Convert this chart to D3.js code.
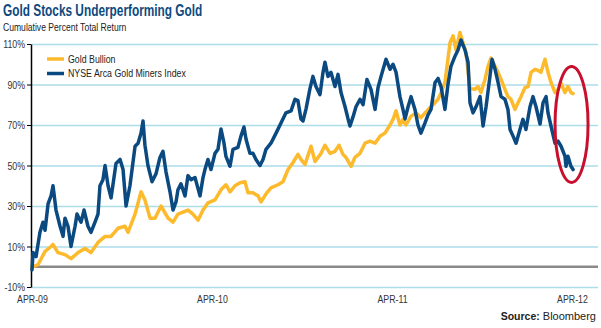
<!DOCTYPE html>
<html>
<head>
<meta charset="utf-8">
<script src="https://cdn.jsdelivr.net/npm/d3@7"></script>
<style>
  body { margin: 0; background: #fff; }
  svg { display: block; font-family: "Liberation Sans", Arial, sans-serif; }
  .axisY .domain { stroke: #000; stroke-width: 1.5; }
  .axisY .tick line { stroke: #000; }
  .axisY text { font-size: 11px; fill: #333; }
  .grid line { stroke: #acdde8; stroke-width: 1.5; }
  .grid .domain { display: none; }
  .axisX .domain, .axisX line { display: none; }
  .axisX text { font-size: 11px; fill: #333; }
</style>
</head>
<body>
<svg id="chartGold" width="601" height="328"></svg>
<script>
// months since April 2009 and cumulative total return (%)
var goldMonths = [0, 0.07, 0.4, 0.87, 1.27, 1.4, 1.73, 2.2, 2.6, 3.07, 3.53, 3.93, 4.4, 4.87, 5.27, 5.73, 6.2, 6.4, 6.87, 7.27,
  7.53, 7.87, 8.2, 8.6, 9.07, 9.4, 9.73, 10.07, 10.4, 10.73, 11.07, 11.4, 11.73, 12.2, 12.6, 12.93, 13.2, 13.53, 13.87, 14.2,
  14.4, 14.73, 15.07, 15.27, 15.6, 15.93, 16.4, 16.73, 17.07, 17.4, 17.73, 17.93, 18.2, 18.4, 18.6, 18.87, 19.27, 19.53, 19.87, 20.2,
  20.47, 20.73, 20.93, 21.27, 21.53, 21.87, 22.2, 22.53, 22.87, 23.2, 23.53, 23.87, 24.07, 24.27, 24.53, 24.73, 24.93, 25.27, 25.6, 25.93,
  26.2, 26.53, 26.73, 27.07, 27.27, 27.53, 27.73, 27.87, 28.07, 28.27, 28.53, 28.73, 28.93, 29.2, 29.53, 29.73, 29.93, 30.2, 30.4, 30.6,
  30.87, 31.07, 31.27, 31.53, 31.73, 31.93, 32.2, 32.4, 32.6, 32.87, 33.07, 33.27, 33.53, 33.73, 33.93, 34.2, 34.4, 34.6, 34.87, 35.07,
  35.27, 35.53, 35.73, 35.93, 36.07];
var goldValues = [0, 0, 1, 7.6, 10, 11, 7, 6, 4, 7, 9, 7, 12, 15, 15, 19, 20, 17, 26, 37,
  33, 24, 24, 30, 24, 22, 26, 27, 28, 26, 23, 28, 31.5, 33, 38, 40.5, 37, 40, 41.5, 42,
  36.5, 36.5, 35, 32, 36, 39, 40.5, 42, 48, 51.5, 55.5, 53, 50.5, 55, 59.5, 52, 56, 60, 56, 57,
  60, 55.5, 54, 49.6, 54, 56, 61, 62, 61, 64.5, 66, 70, 72.8, 77, 70, 72.8, 70, 74.4, 76, 73.6,
  76, 78.5, 80, 82.7, 86, 91, 102.5, 110.7, 114, 107, 115.7, 110.7, 105.8, 88, 87.6, 89, 86, 92.5, 99, 103,
  99, 96, 92.5, 87.6, 84, 82.7, 77.7, 81, 84, 88.5, 89, 96, 97.5, 97, 96, 102.5, 96, 91, 86, 87.6,
  90.6, 86, 89, 86, 85.5];

var minersMonths = [0, 0.07, 0.27, 0.53, 0.73, 0.87, 1.07, 1.27, 1.4, 1.6, 1.87, 2.07, 2.2, 2.4, 2.6, 2.87, 3.0, 3.27, 3.47, 3.73,
  3.93, 4.2, 4.4, 4.53, 4.73, 4.87, 5.07, 5.27, 5.6, 5.87, 6.07, 6.27, 6.53, 6.87, 7.07, 7.27, 7.4, 7.53, 7.73, 8.0,
  8.27, 8.53, 8.73, 8.93, 9.2, 9.4, 9.6, 9.73, 9.93, 10.2, 10.4, 10.6, 10.87, 11.2, 11.4, 11.53, 11.73, 11.93, 12.2, 12.4,
  12.6, 12.8, 12.93, 13.2, 13.4, 13.73, 13.93, 14.13, 14.27, 14.53, 14.73, 14.93, 15.2, 15.4, 15.6, 15.93, 16.27, 16.6, 16.93, 17.27,
  17.53, 17.73, 17.93, 18.07, 18.27, 18.53, 18.73, 18.93, 19.2, 19.4, 19.53, 19.73, 19.93, 20.2, 20.4, 20.6, 20.87, 21.07, 21.2, 21.4,
  21.6, 21.87, 22.07, 22.33, 22.6, 22.87, 23.07, 23.27, 23.6, 23.87, 24.07, 24.27, 24.53, 24.73, 24.87, 25.07, 25.27, 25.53, 25.73, 25.93,
  26.2, 26.4, 26.6, 26.87, 27.07, 27.27, 27.53, 27.73, 27.93, 28.2, 28.4, 28.6, 28.87, 29.07, 29.2, 29.4, 29.6, 29.87, 30.07, 30.27,
  30.53, 30.67, 30.87, 31.07, 31.27, 31.53, 31.73, 31.87, 32.07, 32.27, 32.53, 32.73, 32.93, 33.2, 33.4, 33.6, 33.87, 34.07, 34.27, 34.4,
  34.6, 34.87, 35.07, 35.27, 35.53, 35.6, 35.73, 35.93, 36.07];
var minersValues = [-1.5, 7, 5, 17, 22, 18, 31, 35, 40, 28, 20, 15, 24, 20, 10, 20, 26, 22, 28, 20,
  17, 22, 26, 40, 43, 50, 40, 34, 51, 53, 48, 30, 40, 59.5, 61, 66, 72, 60, 50, 42,
  46, 54, 57, 47, 37, 28, 32, 38, 41, 35, 45, 43, 44, 35, 44, 48, 53, 48, 56, 58,
  68, 61, 54.5, 49.6, 58, 59, 64.5, 69, 63, 56, 56, 53, 50, 53, 58, 61, 66, 71, 76, 77,
  82.7, 82, 73, 72, 78, 88, 94, 89, 85, 96, 101, 94, 96, 89, 95, 86, 79, 73, 69.5, 74,
  79, 82.7, 80, 92.5, 87.6, 77.7, 88.5, 94, 102.5, 97.5, 100, 96, 84, 77.7, 73, 79, 84, 77.7, 70, 66,
  71, 75, 77.7, 91, 93, 89, 77.7, 90, 99, 104, 107, 112, 107, 101, 81, 76, 79, 84, 69.5, 79,
  94, 102.5, 97.5, 91, 84, 82.7, 77.7, 67.8, 64.5, 61, 67.8, 72.8, 67.8, 79, 84, 79, 70.5, 81, 84, 76,
  69.5, 61, 62, 59.5, 54.6, 49.6, 54.6, 49.6, 48];

var yTicks = [-10, 10, 30, 50, 70, 90, 110];
var xTicks = [0, 12, 24, 36];
var xTickLabels = ["APR-09", "APR-10", "APR-11", "APR-12"];

var seriesNames = ["Gold Bullion", "NYSE Arca Gold Miners Index"];
var seriesColors = ["#fcba2c", "#0b4a80"];

var svg = d3.select("#chartGold"),
    margin = {top: 44, right: 3, bottom: 41, left: 31},
    width = +svg.attr("width") - margin.left - margin.right,
    height = +svg.attr("height") - margin.top - margin.bottom,
    g = svg.append("g").attr("transform", "translate(" + margin.left + "," + margin.top + ")");

// squeeze text horizontally to get a condensed face
function narrow(sel, k) {
  sel.each(function() {
    var w = this.getComputedTextLength();
    d3.select(this)
        .attr("textLength", w * k)
        .attr("lengthAdjust", "spacingAndGlyphs");
  });
}

var x = d3.scaleLinear()
    .domain([0, 37.8])
    .range([1, width + 1]);

var y = d3.scaleLinear()
    .domain([-10, 110])
    .range([height, 0]);

var line = d3.line()
    .x(function(d) { return x(d[0]); })
    .y(function(d) { return y(d[1]); });

var gold = d3.zip(goldMonths, goldValues),
    miners = d3.zip(minersMonths, minersValues);

// title block
svg.append("text")
    .attr("x", 3)
    .attr("y", 16)
    .attr("font-size", 16)
    .attr("font-weight", "bold")
    .attr("fill", "#0d4a80")
    .text("Gold Stocks Underperforming Gold")
    .call(narrow, 0.74);

svg.append("text")
    .attr("x", 3)
    .attr("y", 31)
    .attr("font-size", 11)
    .attr("fill", "#222")
    .text("Cumulative Percent Total Return")
    .call(narrow, 0.78);

// horizontal grid
g.append("g")
    .attr("class", "grid")
    .call(d3.axisLeft(y)
        .tickValues(yTicks)
        .tickSize(-width)
        .tickFormat(""));

// zero line
g.append("line")
    .attr("x1", 1)
    .attr("x2", width)
    .attr("y1", y(0))
    .attr("y2", y(0))
    .attr("stroke", "#8a8a8a")
    .attr("stroke-width", 2.5);

g.append("g")
    .attr("class", "axisY")
    .call(d3.axisLeft(y)
        .tickValues(yTicks)
        .tickSize(4)
        .tickPadding(2)
        .tickSizeOuter(0)
        .tickFormat(function(d) { return d + "%"; }))
  .selectAll("text")
    .call(narrow, 0.8);

g.append("g")
    .attr("class", "axisX")
    .attr("transform", "translate(0," + height + ")")
    .call(d3.axisBottom(x)
        .tickValues(xTicks)
        .tickSize(0)
        .tickPadding(8)
        .tickFormat(function(d, i) { return xTickLabels[i]; }))
  .selectAll("text")
    .call(narrow, 0.8);

g.append("path")
    .datum(gold)
    .attr("fill", "none")
    .attr("stroke", seriesColors[0])
    .attr("stroke-linejoin", "round")
    .attr("stroke-linecap", "round")
    .attr("stroke-width", 3.5)
    .attr("d", line);

g.append("path")
    .datum(miners)
    .attr("fill", "none")
    .attr("stroke", seriesColors[1])
    .attr("stroke-linejoin", "round")
    .attr("stroke-linecap", "round")
    .attr("stroke-width", 3.5)
    .attr("d", line);

// highlight of the latest drop
g.append("ellipse")
    .attr("cx", x(35.97))
    .attr("cy", y(70.3))
    .attr("rx", 16.5)
    .attr("ry", 58)
    .attr("fill", "none")
    .attr("stroke", "#c8102e")
    .attr("stroke-width", 3);

// legend
var legend = svg.append("g")
    .selectAll("g")
    .data(seriesNames)
    .enter().append("g")
    .attr("transform", function(d, i) { return "translate(47," + (59 + i * 14.5) + ")"; });

legend.append("line")
    .attr("x1", 0)
    .attr("x2", 17)
    .attr("stroke", function(d, i) { return seriesColors[i]; })
    .attr("stroke-width", 3.5);

legend.append("text")
    .attr("x", 21)
    .attr("dy", "0.35em")
    .attr("font-size", 11)
    .attr("fill", "#222")
    .text(function(d) { return d; })
    .call(narrow, 0.8);

// source note, right aligned
var sourceName = svg.append("text")
    .attr("x", 596)
    .attr("y", 320)
    .attr("text-anchor", "end")
    .attr("font-size", 11)
    .attr("fill", "#222")
    .text("Bloomberg");

svg.append("text")
    .attr("x", 596 - sourceName.node().getComputedTextLength() - 3)
    .attr("y", 320)
    .attr("text-anchor", "end")
    .attr("font-size", 10.5)
    .attr("font-weight", "bold")
    .attr("fill", "#222")
    .text("Source:");
</script>
</body>
</html>
